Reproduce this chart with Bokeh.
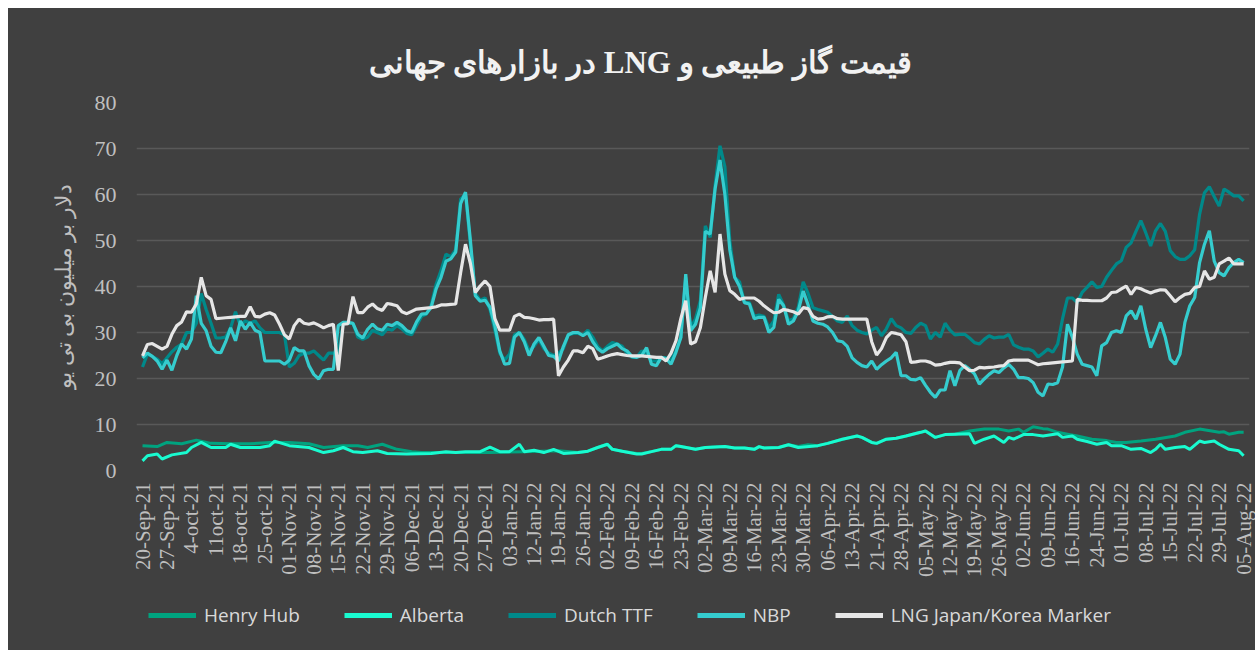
import math
from bokeh.plotting import figure
from bokeh.models import Range1d, FixedTicker, Legend, LegendItem, Title, Spacer
from bokeh.layouts import column, row
from bokeh.embed import file_html
from bokeh.resources import INLINE

# ---------------- data ----------------
tick_labels = ["20-Sep-21", "27-Sep-21", "4-oct-21", "11oct-21", "18-oct-21", "25-oct-21",
               "01-Nov-21", "08-Nov-21", "15-Nov-21", "22-Nov-21", "29-Nov-21", "06-Dec-21",
               "13-Dec-21", "20-Dec-21", "27-Dec-21", "03-Jan-22", "12-Jan-22", "19-Jan-22",
               "26-Jan-22", "02-Feb-22", "09-Feb-22", "16-Feb-22", "23-Feb-22", "02-Mar-22",
               "09-Mar-22", "16-Mar-22", "23-Mar-22", "30-Mar-22", "06-Apr-22", "13-Apr-22",
               "21-Apr-22", "28-Apr-22", "05-May-22", "12-May-22", "19-May-22", "26-May-22",
               "02-Jun-22", "09-Jun-22", "16-Jun-22", "24-Jun-22", "01-Jul-22", "08-Jul-22",
               "15-Jul-22", "22-Jul-22", "29-Jul-22", "05-Aug-22"]

nbp = [
    24.5, 25.5, 24.8, 23.8, 22.0, 24.0, 21.8, 25.0, 27.5, 26.4,
    28.6, 38.0, 32.0, 30.4, 27.0, 25.7, 25.6, 28.0, 31.0, 28.2,
    32.5, 30.7, 32.2, 30.5, 30.0, 23.8, 23.8, 23.8, 23.8, 23.1,
    24.0, 26.7, 26.0, 26.0, 22.8, 20.9, 19.9, 21.7, 22.0, 22.0,
    31.5, 32.2, 32.2, 32.0, 29.6, 28.8, 30.7, 31.8, 30.8, 30.5,
    31.8, 31.5, 32.2, 31.5, 30.4, 30.0, 32.3, 34.0, 34.1, 35.5,
    39.5, 42.0, 45.5, 46.0, 47.5, 58.0, 60.5, 50.0, 38.0, 36.8,
    37.0, 35.5, 31.5, 26.0, 23.1, 23.3, 29.0, 30.0, 28.0, 25.0,
    27.5, 28.9, 27.0, 25.0, 24.8, 23.8, 27.0, 29.5, 30.0, 30.0,
    29.3, 30.0, 28.0, 26.5, 25.7, 26.5, 27.0, 27.5, 26.5, 26.0,
    24.8, 24.6, 25.0, 26.7, 23.1, 22.8, 24.6, 24.3, 23.1, 25.7,
    28.9, 42.7, 30.4, 31.8, 35.4, 52.0, 51.4, 61.2, 67.5, 60.0,
    48.0, 42.0, 40.0, 36.5, 36.2, 33.0, 33.3, 33.3, 30.0, 31.1,
    37.2, 35.8, 31.8, 32.5, 34.7, 39.0, 36.0, 32.5, 32.0, 31.8,
    31.2, 30.0, 28.2, 28.0, 27.0, 24.5, 23.5, 22.8, 22.5, 23.8,
    22.0, 23.0, 23.8, 24.5, 25.7, 20.6, 20.6, 19.8, 19.7, 20.2,
    18.5, 17.0, 15.9, 17.5, 17.5, 21.7, 18.4, 21.7, 22.8, 22.0,
    21.0, 18.8, 19.9, 20.9, 21.7, 21.3, 22.3, 23.1, 22.0, 20.2,
    20.2, 20.0, 19.1, 17.0, 16.2, 18.8, 18.7, 19.1, 22.5, 31.8,
    29.0, 25.3, 23.1, 22.8, 22.5, 20.6, 27.1, 27.8, 30.0, 30.4,
    30.0, 33.6, 34.7, 32.9, 35.8, 30.7, 26.7, 29.3, 32.2, 28.9,
    24.2, 23.1, 25.3, 32.2, 35.8, 37.6, 45.2, 49.2, 52.1, 45.5,
    43.0, 42.3, 44.1, 45.2, 45.9, 45.2]

ttf = [
    22.5, 25.3, 24.8, 24.2, 23.2, 24.5, 25.8, 26.8, 27.5, 30.0,
    30.0, 32.0, 38.5, 35.0, 32.0, 28.8, 28.8, 29.0, 31.0, 34.5,
    31.5, 32.5, 32.0, 32.5, 31.0, 30.0, 30.0, 30.0, 30.0, 29.5,
    22.5, 23.3, 25.0, 25.5, 25.5, 26.0, 25.0, 24.0, 25.5, 25.5,
    25.5, 32.0, 32.0, 32.0, 29.0, 28.5, 29.0, 30.5, 30.0, 29.5,
    30.8, 30.5, 31.5, 30.8, 29.8, 29.5, 31.5, 33.5, 34.0, 36.0,
    40.5, 43.5, 47.0, 46.5, 48.0, 59.0, 60.0, 49.0, 38.5, 37.0,
    37.5, 35.0, 30.5, 25.5, 24.0, 25.3, 29.5, 30.0, 28.5, 26.0,
    27.0, 28.5, 26.5, 25.5, 25.0, 25.5, 26.5, 29.5, 29.8, 29.8,
    29.5, 30.5, 29.0, 27.0, 26.0, 27.0, 27.8, 27.5, 27.0, 25.5,
    24.6, 24.6, 26.0, 25.5, 23.8, 23.8, 24.5, 24.5, 24.0, 26.0,
    29.0, 42.0, 31.0, 33.0, 37.0, 53.2, 50.7, 62.0, 70.6, 66.0,
    50.0, 42.0, 41.0, 36.5, 36.5, 33.5, 33.8, 33.5, 31.0, 32.5,
    38.3, 36.0, 32.5, 33.0, 35.5, 41.0, 38.5, 35.4, 35.0, 34.7,
    34.4, 33.5, 32.5, 32.2, 33.6, 31.5, 30.5, 30.0, 29.7, 30.5,
    31.1, 29.3, 30.8, 33.0, 31.5, 31.0, 30.0, 29.8, 31.1, 32.0,
    31.5, 28.6, 30.0, 29.0, 32.0, 30.5, 29.5, 29.6, 29.6, 28.8,
    27.8, 27.5, 28.5, 29.3, 28.8, 29.0, 29.0, 29.6, 27.3, 26.8,
    26.4, 26.4, 26.0, 24.7, 25.5, 26.4, 25.7, 27.5, 33.0, 37.5,
    37.5, 36.5, 38.7, 39.8, 41.0, 39.8, 40.0, 42.0, 43.5, 44.9,
    45.6, 48.5, 49.5, 52.0, 54.3, 51.7, 48.8, 52.1, 53.7, 52.0,
    47.8, 46.5, 45.9, 45.9, 46.7, 48.0, 55.7, 60.4, 61.7, 59.5,
    57.5, 61.2, 60.5, 59.7, 59.7, 58.6]

lng = [
    24.9, 27.4, 27.6, 27.0, 26.4, 27.0, 29.6, 31.5, 32.3, 34.5,
    34.4, 36.2, 42.0, 38.0, 37.2, 33.0, 33.1, 33.2, 33.3, 33.4,
    33.5, 33.5, 35.6, 33.5, 33.4, 34.0, 34.3, 33.8, 31.8, 29.5,
    28.6, 31.5, 32.9, 32.0, 31.8, 32.1, 31.6, 31.0, 31.5, 31.8,
    21.7, 31.8, 31.9, 37.8, 34.3, 34.3, 35.5, 36.2, 35.2, 34.8,
    36.3, 36.1, 35.8, 34.5, 34.1, 34.6, 35.1, 35.2, 35.3, 35.4,
    35.6, 36.0, 36.0, 36.1, 36.2, 43.0, 49.2, 45.0, 38.7, 40.1,
    41.2, 40.0, 33.0, 30.5, 30.5, 30.5, 33.5, 34.0, 33.3, 33.2,
    33.0, 32.7, 32.8, 32.8, 32.9, 20.6, 22.5, 24.0, 26.0, 26.0,
    25.6, 27.0, 26.5, 24.2, 24.5, 24.9, 25.2, 25.4, 25.2, 25.0,
    24.9, 24.9, 24.9, 24.8, 24.7, 24.6, 24.6, 23.8, 25.5, 28.2,
    33.0, 36.9, 27.5, 28.0, 31.1, 37.6, 43.4, 38.7, 51.4, 42.7,
    39.1, 38.3, 37.2, 37.5, 37.5, 37.5, 36.8, 35.8, 35.0, 34.3,
    34.4, 35.0, 34.8, 34.5, 34.0, 35.4, 35.2, 33.5, 32.9, 33.0,
    33.4, 33.5, 33.0, 32.9, 32.9, 32.9, 32.9, 32.9, 32.9, 28.0,
    25.1, 26.5, 28.9, 30.0, 29.8, 29.5, 28.0, 23.5, 23.6, 23.8,
    23.8, 23.5, 22.9, 23.0, 23.3, 23.5, 23.5, 23.4, 22.5, 21.7,
    21.8, 22.4, 22.3, 22.4, 22.5, 22.7, 22.8, 23.8, 24.0, 24.0,
    24.0, 24.0, 23.5, 23.0, 23.2, 23.3, 23.4, 23.5, 23.6, 23.7,
    23.8, 37.2, 37.0, 37.0, 36.9, 36.9, 36.9, 37.5, 38.7, 38.8,
    39.5, 40.1, 38.3, 39.8, 39.5, 39.0, 38.6, 39.0, 39.3, 39.2,
    38.0, 36.7, 37.6, 38.3, 38.5, 39.8, 40.0, 43.4, 41.6, 42.0,
    44.9, 45.5, 46.2, 44.9, 44.9, 44.9]

hh_day = [0, 3, 5, 8, 11, 14, 18, 22, 26, 30, 34, 37, 41, 44, 46, 49, 52, 55, 57, 71,
          78, 85, 89, 91, 93, 95, 96, 98, 101, 102, 104, 106, 108, 109, 110, 113, 115,
          119, 121, 123, 125, 126, 127, 130, 132, 134, 136, 138, 140, 143, 146, 147,
          149, 150, 152, 154, 156, 159, 160, 162, 164, 166, 169, 172, 175, 177, 179,
          180, 182, 184, 185, 187, 189, 191, 194, 197, 199, 201, 204, 207, 211, 213,
          216, 220, 221, 222, 224, 225]
hh = [5.4, 5.2, 6.1, 5.8, 6.6, 5.9, 5.8, 5.8, 6.1, 6.1, 5.8, 5.0, 5.4, 5.4, 5.0, 5.7, 4.6,
      4.1, 3.9, 3.9, 4.1, 4.3, 3.9, 4.2, 5.0, 5.7, 4.6, 4.2, 3.7, 3.7, 4.1, 4.6, 4.6,
      5.4, 5.2, 4.6, 5.0, 5.2, 4.9, 4.9, 4.6, 5.2, 4.9, 5.0, 5.6, 5.2, 5.6, 5.4, 5.9,
      6.8, 7.5, 7.2, 6.1, 5.9, 6.8, 7.0, 7.5, 8.3, 8.6, 7.2, 7.8, 7.9, 8.6, 9.0, 9.0,
      8.6, 9.0, 8.3, 9.5, 9.1, 9.0, 8.3, 7.9, 7.5, 6.8, 6.5, 6.1, 6.1, 6.4, 6.8, 7.5,
      8.3, 9.0, 8.3, 8.4, 7.9, 8.3, 8.3]

alberta_day = [0, 1, 3, 4, 6, 9, 10, 12, 14, 17, 18, 20, 24, 26, 27, 30, 34, 37, 39, 41,
               43, 45, 48, 50, 54, 59, 62, 64, 66, 69, 71, 73, 75, 77, 78, 80, 82, 84,
               86, 89, 91, 93, 95, 96, 98, 101, 102, 104, 106, 108, 109, 110, 113, 115,
               119, 121, 123, 125, 126, 127, 130, 132, 134, 138, 140, 143, 146, 147,
               149, 150, 152, 154, 156, 159, 160, 162, 164, 166, 169, 170, 172, 174,
               176, 177, 178, 180, 182, 184, 187, 188, 190, 191, 193, 195, 197, 198,
               200, 202, 204, 206, 207, 208, 209, 211, 213, 214, 216, 217, 219, 220,
               222, 224, 225]
alberta = [2.1, 3.2, 3.6, 2.5, 3.4, 3.9, 5.0, 6.1, 5.0, 5.0, 5.7, 5.0, 5.0, 5.4, 6.4, 5.4,
           5.0, 3.9, 4.3, 5.0, 4.1, 3.9, 4.3, 3.7, 3.6, 3.7, 4.1, 3.9, 4.1, 4.1, 5.1, 4.1,
           4.1, 5.7, 4.1, 4.4, 3.9, 4.6, 3.7, 3.9, 4.2, 5.0, 5.7, 4.6, 4.2, 3.6, 3.6, 4.1,
           4.6, 4.6, 5.4, 5.2, 4.6, 5.0, 5.2, 4.9, 4.9, 4.6, 5.2, 4.9, 5.0, 5.6, 5.0, 5.4,
           5.9, 6.8, 7.5, 7.2, 6.1, 5.9, 6.8, 7.0, 7.5, 8.3, 8.6, 7.2, 7.8, 7.9, 8.0, 5.9,
           6.8, 7.5, 6.1, 7.2, 6.8, 7.8, 7.8, 7.5, 8.0, 7.2, 7.5, 6.8, 6.3, 5.7, 6.1, 5.4,
           5.4, 4.6, 4.8, 3.9, 4.6, 5.7, 4.6, 5.0, 5.2, 4.6, 6.4, 6.1, 6.4, 5.7, 4.6, 4.3,
           3.2]

series_names = ["Henry Hub", "Alberta", "Dutch TTF", "NBP", "LNG Japan/Korea Marker"]
series_colors = ["#00A37F", "#19FBD0", "#00898A", "#35CCCE", "#E6E6E6"]

title_text = "\u202Bقیمت گاز طبیعی و LNG در بازارهای جهانی\u202C"
y_label = "دلار بر میلیون بی تی یو"

# ---------------- main figure ----------------
BG = "#404040"
W = 1247
days = list(range(len(nbp)))
series_x = [hh_day, alberta_day, days, days, days]
series_y = [hh, alberta, ttf, nbp, lng]
widths = [3, 3, 3.2, 3.2, 3.2]

p = figure(width=W, height=582, output_backend="svg", toolbar_location=None,
           x_range=Range1d(-1.23, 226.2), y_range=Range1d(0, 80),
           min_border_left=128, min_border_right=6, min_border_top=94, min_border_bottom=120,
           background_fill_color=BG, border_fill_color=BG, outline_line_color=None)
p.title = None
p.styles = {"background-color": BG}

t = Title(text=title_text, align="left", offset=232, standoff=45,
          text_font="Liberation Serif", text_font_size="31px", text_font_style="bold",
          text_color="#F2F2F2")
p.add_layout(t, "above")

for xs, ys, c, w in zip(series_x, series_y, series_colors, widths):
    p.line(xs, ys, line_color=c, line_width=w)

ticks = list(range(0, 5 * len(tick_labels), 5))
p.xaxis.ticker = FixedTicker(ticks=ticks)
p.xaxis.major_label_overrides = {tk: lab for tk, lab in zip(ticks, tick_labels)}
p.xaxis.major_label_orientation = math.pi / 2
p.xaxis.major_label_text_font = "Liberation Serif"
p.xaxis.major_label_text_font_size = "21px"
p.xaxis.major_label_text_color = "#BFBFBF"
p.xaxis.major_label_standoff = 6
p.xaxis.axis_line_color = None
p.xaxis.major_tick_line_color = None
p.xaxis.minor_tick_line_color = None

p.yaxis.ticker = FixedTicker(ticks=list(range(0, 81, 10)))
p.yaxis.major_label_text_font = "Liberation Serif"
p.yaxis.major_label_text_font_size = "22px"
p.yaxis.major_label_text_color = "#BFBFBF"
p.yaxis.major_label_standoff = 14
p.yaxis.axis_line_color = None
p.yaxis.major_tick_line_color = None
p.yaxis.minor_tick_line_color = None
p.yaxis.axis_label = y_label
p.yaxis.axis_label_text_font = "Liberation Serif"
p.yaxis.axis_label_text_font_size = "22px"
p.yaxis.axis_label_text_font_style = "normal"
p.yaxis.axis_label_text_color = "#BFBFBF"
p.yaxis.axis_label_standoff = 16

p.xgrid.grid_line_color = None
p.ygrid.grid_line_color = "#595959"
p.ygrid.grid_line_width = 1.5

# ---------------- legend strip (same series, drawn off-range) ----------------
lg = figure(width=W, height=60, output_backend="svg", toolbar_location=None,
            x_range=Range1d(0, 1), y_range=Range1d(-200, -100),
            min_border=0, background_fill_color=BG,
            border_fill_color=BG, outline_line_color=None)
lg.styles = {"background-color": BG}
lg.axis.visible = False
lg.grid.visible = False
lg_renderers = [lg.line(xs, ys, line_color=c, line_width=5)
                for xs, ys, c in zip(series_x, series_y, series_colors)]
legend = Legend(items=[LegendItem(label=n, renderers=[r]) for n, r in zip(series_names, lg_renderers)],
                orientation="horizontal", location=(6, 16),
                label_text_font="Open Sans", label_text_font_size="19px",
                label_text_color="#D9D9D9", glyph_width=48, glyph_height=20,
                spacing=44, label_standoff=8, padding=6, margin=0,
                background_fill_alpha=0, border_line_alpha=0)
lg.add_layout(legend, "center")

page = column(Spacer(height=8), row(Spacer(width=8), column(p, lg)))
open("out.html", "w").write(file_html(page, INLINE))
